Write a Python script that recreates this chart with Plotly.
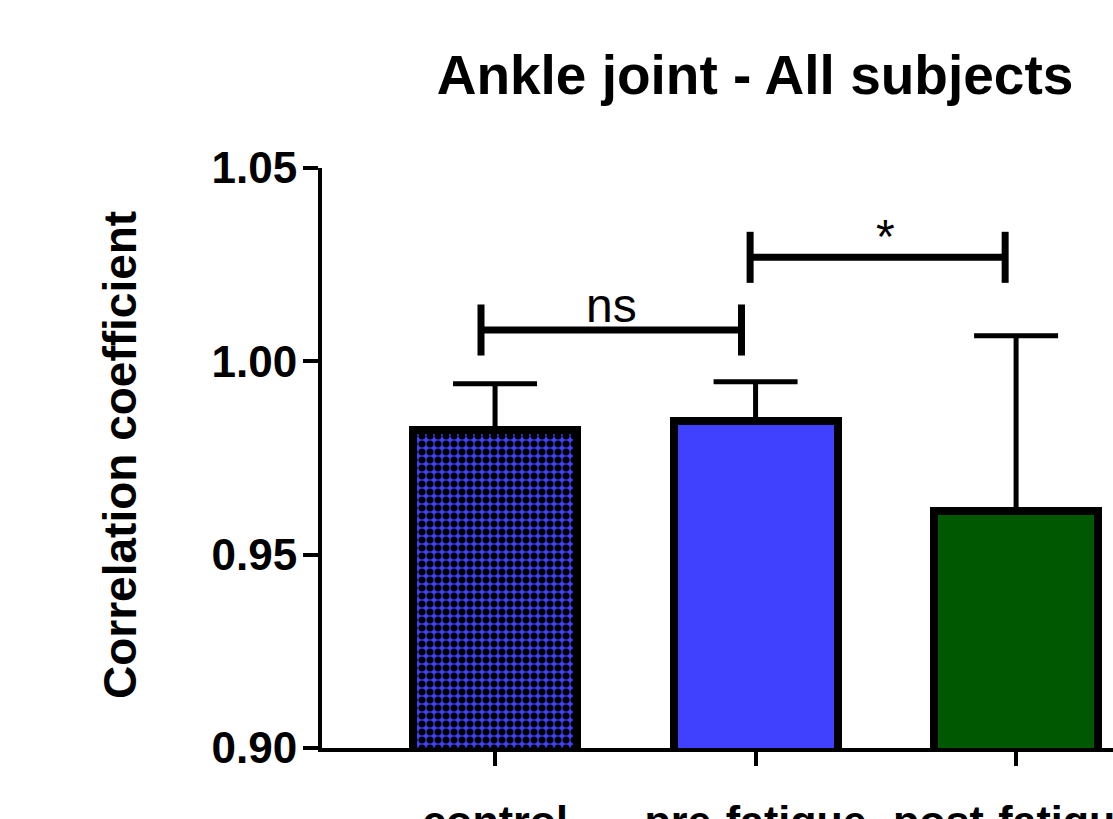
import plotly.graph_objects as go

# Group labels and summary statistics (mean, upper SD)
categories = ["control", "pre-fatigue", "post-fatigue"]
means = [0.9823, 0.9845, 0.9614]
sd_upper = [0.0119, 0.0102, 0.0452]
y_ticks = [0.90, 0.95, 1.00, 1.05]

# Pairwise comparisons: (left group, right group, label, bracket height)
comparisons = [(0, 1, "ns", 1.0081), (1, 2, "*", 1.0269)]

# Styling
FONT = "Liberation Sans, Arial, sans-serif"
BLUE = "#4040ff"
GREEN = "#005800"
bracket_inset = [(-0.054, -0.054), (-0.021, -0.042)]
bracket_tick = 0.0066

x_pos = list(range(len(categories)))

fig = go.Figure()

# Bars (control with a dotted fill, the others solid)
patterns = [
    dict(shape=".", fgcolor="black", bgcolor=BLUE, size=8, solidity=0.6, fillmode="replace"),
    dict(shape=""),
    dict(shape=""),
]
colors = [BLUE, BLUE, GREEN]
for i in x_pos:
    fig.add_trace(go.Bar(
        x=[x_pos[i]], y=[means[i]],
        width=0.63,
        marker=dict(color=colors[i], line=dict(color="black", width=8), pattern=patterns[i]),
        error_y=dict(type="data", symmetric=False, array=[sd_upper[i]], arrayminus=[0],
                     color="black", thickness=5, width=42),
        showlegend=False, hoverinfo="skip",
    ))

# Significance brackets
for k, (a, b, label, h) in enumerate(comparisons):
    xl = x_pos[a] + bracket_inset[k][0]
    xr = x_pos[b] + bracket_inset[k][1]
    fig.add_trace(go.Scatter(
        x=[xl, xl, None, xl, xr, None, xr, xr],
        y=[h - bracket_tick, h + bracket_tick, None, h, h, None, h - bracket_tick, h + bracket_tick],
        mode="lines", line=dict(color="black", width=7),
        showlegend=False, hoverinfo="skip",
    ))
    fig.add_annotation(
        x=(xl + xr) / 2 + (0.03 if label == "*" else 0), y=h,
        xref="x", yref="y", text=label, showarrow=False,
        yanchor="bottom", yshift=(-8 if label == "*" else -4),
        font=dict(family=FONT, size=48, color="black"),
    )

# Y axis title
fig.add_annotation(
    x=(120 - 322) / 791, y=(748 - 455) / 580, xref="paper", yref="paper",
    text="Correlation coefficient", textangle=-90, showarrow=False,
    xanchor="center", yanchor="middle",
    font=dict(family=FONT, size=46, color="black", weight="bold"),
)

fig.update_layout(
    width=1113, height=819,
    margin=dict(l=322, r=0, t=168, b=71, autoexpand=False),
    paper_bgcolor="white", plot_bgcolor="white",
    title=dict(text="Ankle joint - All subjects", x=755 / 1113, xanchor="center",
               y=1 - 75 / 819, yanchor="middle", xref="container", yref="container",
               font=dict(family=FONT, size=55, color="black", weight="bold")),
    bargap=0,
)

fig.update_xaxes(
    range=[-0.672 + 2 / 260.5, 2.372], tickvals=x_pos, ticktext=categories,
    ticks="outside", ticklen=14, tickwidth=4, tickcolor="black",
    showline=True, linewidth=4, linecolor="black",
    showgrid=False, zeroline=False, ticklabelstandoff=18,
    ticklabeloverflow="allow",
    tickfont=dict(family=FONT, size=43, color="black", weight="bold"),
)
fig.update_yaxes(
    range=[0.90, 1.05], tickvals=y_ticks, tickformat=".2f",
    ticks="outside", ticklen=15, tickwidth=4, tickcolor="black",
    showline=True, linewidth=4, linecolor="black",
    showgrid=False, zeroline=False, ticklabelstandoff=-3,
    tickfont=dict(family=FONT, size=44, color="black", weight="bold"),
)

fig.write_html("out.html")
